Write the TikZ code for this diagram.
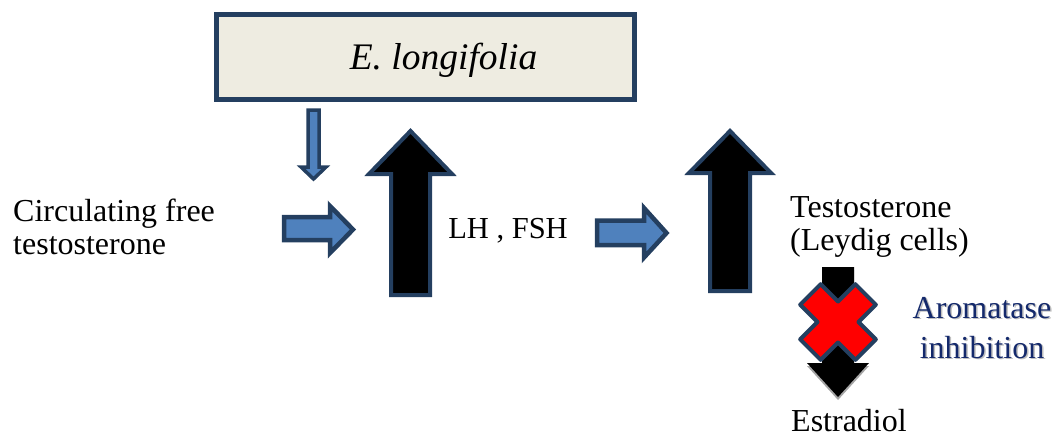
\documentclass[tikz,border=0pt]{standalone}
\usepackage{fontspec}
\setmainfont{Liberation Serif}

\definecolor{navy}{HTML}{243F60}
\definecolor{steel}{HTML}{4F81BD}
\definecolor{tan}{HTML}{EEECE1}
\definecolor{inkblue}{HTML}{14296B}

\tikzset{
  txt/.style = {inner sep = 0, font = \fontsize{32}{33}\selectfont, align = left},
  bluearrow/.style = {draw = navy, fill = steel, line width = 4.5pt},
  blackarrow/.style = {draw = navy, fill = black, line width = 4pt},
}

\begin{document}
\begin{tikzpicture}[x = 1pt, y = -1pt]
  \useasboundingbox (0, 0) rectangle (1059, 437);

  % extract box at the top
  \node[draw = navy, fill = tan, line width = 5pt,
    minimum width = 418pt, minimum height = 85pt] (extract) at (425.5, 57) {};
  \node[inner sep = 0, font = \fontsize{37.5}{40}\selectfont\itshape]
    (extractname) at (443.5, 60) {E. longifolia};

  % texts
  \node[txt, anchor = west] (freet) at (13, 227)
    {Circulating free\\testosterone};
  \node[txt, font = \fontsize{30.5}{30}\selectfont] (lhfsh) at (508, 231)
    {LH , FSH};
  \node[txt, anchor = west] (testo) at (790, 227)
    {Testosterone\\(Leydig cells)};
  \node[txt, anchor = west] (estra) at (791, 421) {Estradiol};
  \node[txt, align = center, font = \fontsize{32}{40}\selectfont,
    text = black!25] at (983.5, 329.5) {Aromatase\\inhibition};
  \node[txt, align = center, font = \fontsize{32}{40}\selectfont,
    text = inkblue] (aroma) at (982, 328) {Aromatase\\inhibition};

  % small arrow from the box
  \draw[bluearrow, line width = 3.5pt]
    (308, 110) -- (319, 110) -- (319, 167) -- (326, 167)
    -- (313.5, 179) -- (301, 167) -- (308, 167) -- cycle;

  % arrows to the right
  \draw[bluearrow]
    (284, 217) -- (330, 217) -- (330, 206) -- (353, 229.5)
    -- (330, 253) -- (330, 240) -- (284, 240) -- cycle;
  \draw[bluearrow]
    (597, 220.5) -- (644, 220.5) -- (644, 208) -- (666.5, 233)
    -- (644, 257.5) -- (644, 245) -- (597, 245) -- cycle;

  % big arrows up
  \draw[blackarrow]
    (391, 295) -- (391, 174) -- (369, 174) -- (410.5, 131)
    -- (452, 174) -- (430, 174) -- (430, 295) -- cycle;
  \draw[blackarrow]
    (710, 291) -- (710, 173) -- (689, 173) -- (730, 131)
    -- (771, 173) -- (750, 173) -- (750, 291) -- cycle;

  % arrow down to estradiol, with its shadow
  \fill[black!35]
    (822, 270) -- (854, 270) -- (854, 366) -- (869, 366)
    -- (838, 400) -- (807, 366) -- (822, 366) -- cycle;
  \fill[black]
    (822, 267) -- (854, 267) -- (854, 363) -- (869, 363)
    -- (838, 397) -- (807, 363) -- (822, 363) -- cycle;

  % blocked step
  \begin{scope}[shift = {(838, 322)}, rotate = 45]
    \draw[draw = navy, fill = red, line width = 4pt, line join = round]
      (-14.5, -39) -- (14.5, -39) -- (14.5, -14.5) -- (39, -14.5)
      -- (39, 14.5) -- (14.5, 14.5) -- (14.5, 39) -- (-14.5, 39)
      -- (-14.5, 14.5) -- (-39, 14.5) -- (-39, -14.5) -- (-14.5, -14.5)
      -- cycle;
  \end{scope}
\end{tikzpicture}
\end{document}
